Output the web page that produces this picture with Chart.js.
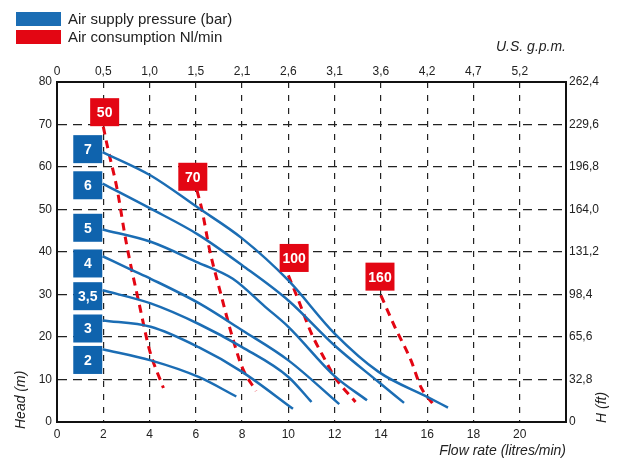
<!DOCTYPE html>
<html>
<head>
<meta charset="utf-8">
<script src="https://cdn.jsdelivr.net/npm/chart.js@4"></script>
<style>
  body { margin: 0; background: #fff; }
  #wrap { position: relative; width: 644px; height: 460px; font-family: "Liberation Sans", Arial, sans-serif; }
  .key { position: absolute; left: 16px; width: 45px; height: 14px; }
  .key-text { position: absolute; left: 68px; font-size: 15px; color: #222; line-height: 15px; white-space: nowrap; }
</style>
</head>
<body>
<div id="wrap">
  <canvas id="chart" width="644" height="460"></canvas>
  <div class="key" style="top:12px; background:#1b6db4;"></div>
  <div class="key-text" style="top:11px;">Air supply pressure (bar)</div>
  <div class="key" style="top:30px; background:#e30613;"></div>
  <div class="key-text" style="top:29px;">Air consumption Nl/min</div>
</div>
<script>
// flow rate ticks (bottom) and matching U.S. g.p.m. labels (top)
const flowTicks = [0, 2, 4, 6, 8, 10, 12, 14, 16, 18, 20];
const gpmLabels = ['0', '0,5', '1,0', '1,5', '2,1', '2,6', '3,1', '3,6', '4,2', '4,7', '5,2'];
const headTicks = [0, 10, 20, 30, 40, 50, 60, 70, 80];
const feetLabels = ['0', '32,8', '65,6', '98,4', '131,2', '164,0', '196,8', '229,6', '262,4'];

// air supply pressure curves (bar)
const p7Flow = [1.97, 4.05, 6.1, 8.0, 10.0, 12.0, 13.9, 16.0, 16.9];
const p7Head = [63.5, 58.0, 50.4, 43.2, 33.3, 20.8, 11.8, 5.9, 3.4];
const p6Flow = [1.97, 4.05, 6.1, 8.0, 10.0, 12.0, 13.9, 15.0];
const p6Head = [56.1, 50.2, 44.1, 36.9, 28.6, 18.0, 9.4, 4.5];
const p5Flow = [1.97, 4.05, 6.1, 7.6, 9.0, 10.0, 12.0, 13.4];
const p5Head = [45.3, 42.4, 37.5, 33.7, 27.1, 22.4, 10.8, 5.1];
const p4Flow = [1.97, 3.26, 4.05, 6.15, 8.0, 10.0, 12.2];
const p4Head = [39.0, 35.7, 33.7, 27.9, 21.6, 14.5, 4.2];
const p35Flow = [1.97, 4.05, 6.15, 8.0, 10.0, 11.0];
const p35Head = [31.0, 27.9, 23.0, 17.6, 10.6, 4.7];
const p3Flow = [1.97, 4.05, 6.12, 8.0, 10.2];
const p3Head = [23.9, 22.4, 17.6, 11.8, 3.1];
const p2Flow = [1.97, 4.05, 6.12, 7.75];
const p2Head = [17.1, 14.5, 10.6, 6.0];

// air consumption curves (Nl/min)
const c50Flow = [2.0, 2.2, 2.58, 3.0, 3.58, 4.0, 4.6];
const c50Head = [69.5, 64.3, 55.3, 42.0, 27.1, 16.9, 8.0];
const c70Flow = [6.05, 6.27, 6.6, 7.0, 7.58, 8.0, 8.6];
const c70Head = [54.5, 49.8, 40.4, 31.8, 20.0, 12.9, 7.3];
const c100Flow = [10.0, 10.44, 11.0, 11.6, 12.0, 12.9];
const c100Head = [34.5, 28.6, 20.8, 14.5, 10.6, 4.7];
const c160Flow = [14.0, 14.6, 15.3, 15.73, 16.24];
const c160Head = [29.8, 22.4, 14.5, 8.2, 4.3];

// curve tags
const pressureTags = ['7', '6', '5', '4', '3,5', '3', '2'];
const pressureTagX = [1.33, 1.33, 1.33, 1.33, 1.33, 1.33, 1.33];
const pressureTagY = [64.2, 55.7, 45.7, 37.3, 29.6, 22.0, 14.6];
const airTags = ['50', '70', '100', '160'];
const airTagX = [2.06, 5.87, 10.25, 13.96];
const airTagY = [72.9, 57.7, 38.6, 34.2];

const BLUE = '#1b6db4';
const RED = '#e30613';
const TICK_FONT = { family: '"Liberation Sans", Arial, sans-serif', size: 12 };
const TITLE_FONT = { family: '"Liberation Sans", Arial, sans-serif', size: 14, style: 'italic' };

function pts(xs, ys) {
    return xs.map((x, i) => ({ x: x, y: ys[i] }));
}

function pressureSet(xs, ys) {
    return { data: pts(xs, ys), borderColor: BLUE, borderWidth: 2.5, showLine: true, pointRadius: 0,
        cubicInterpolationMode: 'monotone', order: 1 };
}

function airSet(xs, ys) {
    return { data: pts(xs, ys), borderColor: RED, borderWidth: 3, borderDash: [8, 6], showLine: true, pointRadius: 0,
        cubicInterpolationMode: 'monotone', order: 2 };
}

const tagPlugin = {
    id: 'tags',
    afterDatasetsDraw(chart) {
        const ctx = chart.ctx;
        const xs = chart.scales.x;
        const ys = chart.scales.y;
        function tag(text, x, y, color) {
            const px = xs.getPixelForValue(x);
            const py = ys.getPixelForValue(y);
            ctx.fillStyle = color;
            ctx.fillRect(px - 14.5, py - 14, 29, 28);
            ctx.fillStyle = '#fff';
            ctx.font = 'bold 14px "Liberation Sans", Arial, sans-serif';
            ctx.textAlign = 'center';
            ctx.textBaseline = 'middle';
            ctx.fillText(text, px, py + 1);
        }
        ctx.save();
        pressureTags.forEach((t, i) => tag(t, pressureTagX[i], pressureTagY[i], '#0f63ad'));
        airTags.forEach((t, i) => tag(t, airTagX[i], airTagY[i], RED));

        // rotated axis titles, both reading bottom to top
        ctx.fillStyle = '#222';
        ctx.font = 'italic 14px "Liberation Sans", Arial, sans-serif';
        ctx.textAlign = 'left';
        ctx.textBaseline = 'middle';
        ctx.translate(21, 429);
        ctx.rotate(-Math.PI / 2);
        ctx.fillText('Head (m)', 0, 0);
        ctx.setTransform(1, 0, 0, 1, 0, 0);
        ctx.translate(602, 423);
        ctx.rotate(-Math.PI / 2);
        ctx.fillText('H (ft)', 0, 0);
        ctx.restore();
    }
};

new Chart(document.getElementById('chart'), {
    type: 'scatter',
    data: {
        datasets: [
            pressureSet(p7Flow, p7Head),
            pressureSet(p6Flow, p6Head),
            pressureSet(p5Flow, p5Head),
            pressureSet(p4Flow, p4Head),
            pressureSet(p35Flow, p35Head),
            pressureSet(p3Flow, p3Head),
            pressureSet(p2Flow, p2Head),
            airSet(c50Flow, c50Head),
            airSet(c70Flow, c70Head),
            airSet(c100Flow, c100Head),
            airSet(c160Flow, c160Head)
        ]
    },
    options: {
        responsive: false,
        animation: false,
        layout: { padding: 0 },
        plugins: { legend: { display: false }, tooltip: { enabled: false } },
        scales: {
            x: {
                type: 'linear', position: 'bottom', min: 0, max: 22,
                afterBuildTicks: s => { s.ticks = flowTicks.concat([22]).map(v => ({ value: v })); },
                ticks: { color: '#222', font: TICK_FONT, padding: 5, maxRotation: 0,
                    callback: v => (flowTicks.includes(v) ? String(v) : '') },
                grid: { color: '#222', lineWidth: 1.2, drawTicks: false },
                border: { display: true, color: '#111', width: 2, dash: [6, 7] },
                title: { display: true, text: 'Flow rate (litres/min)', align: 'end', color: '#222', font: TITLE_FONT, padding: 0 },
                afterFit: s => { s.height = 38; }
            },
            x2: {
                type: 'linear', position: 'top', min: 0, max: 22,
                afterBuildTicks: s => { s.ticks = flowTicks.map(v => ({ value: v })); },
                ticks: { color: '#222', font: TICK_FONT, padding: 3, maxRotation: 0,
                    callback: (v, i) => gpmLabels[i] },
                grid: { display: false, drawTicks: false },
                border: { display: true, color: '#111', width: 2 },
                title: { display: true, text: 'U.S. g.p.m.', align: 'end', color: '#222', font: TITLE_FONT, padding: { top: 39, bottom: 0 } },
                afterFit: s => { s.height = 82; }
            },
            y: {
                type: 'linear', position: 'left', min: 0, max: 80,
                afterBuildTicks: s => { s.ticks = headTicks.map(v => ({ value: v })); },
                ticks: { color: '#222', font: TICK_FONT, padding: 5 },
                grid: { color: '#222', lineWidth: 1.2, drawTicks: false },
                border: { display: true, color: '#111', width: 2, dash: [9, 6] },
                afterFit: s => { s.width = 57; }
            },
            y2: {
                type: 'linear', position: 'right', min: 0, max: 80,
                afterBuildTicks: s => { s.ticks = headTicks.map(v => ({ value: v })); },
                ticks: { color: '#222', font: TICK_FONT, padding: 3,
                    callback: (v, i) => feetLabels[i] },
                grid: { display: false, drawTicks: false },
                border: { display: true, color: '#111', width: 2 },
                afterFit: s => { s.width = 78; }
            }
        }
    },
    plugins: [tagPlugin]
});
</script>
</body>
</html>
